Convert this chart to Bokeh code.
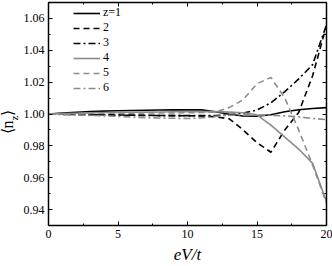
from bokeh.plotting import figure
from bokeh.layouts import row
from bokeh.models import (LinearAxis, SingleIntervalTicker, Legend, LegendItem, Div,
                          Range1d, PrintfTickFormatter, CustomJSTickFormatter)
from bokeh.embed import file_html
from bokeh.resources import INLINE

# ---- data ----
ev = list(range(21))
n_z1 = [1.0000, 1.0006, 1.0011, 1.0015, 1.0018, 1.0020, 1.0022, 1.0024, 1.0025, 1.0026, 1.0027,
        1.0026, 1.0014, 0.9998, 0.9987, 0.9986, 0.9995, 1.0014, 1.0027, 1.0035, 1.0040]
n_z2 = [1.0000, 0.9998, 0.9997, 0.9996, 0.9995, 0.9994, 0.9993, 0.9992, 0.9991, 0.9990, 0.9989,
        0.9988, 0.9982, 0.9970, 0.9900, 0.9820, 0.9760, 0.9900, 1.0010, 1.0240, 1.0555]
n_z3 = [1.0000, 0.9998, 0.9996, 0.9995, 0.9994, 0.9993, 0.9992, 0.9991, 0.9990, 0.9990, 0.9990,
        0.9990, 0.9990, 0.9995, 1.0005, 1.0025, 1.0070, 1.0140, 1.0220, 1.0310, 1.0560]
n_z4 = [1.0000, 1.0003, 1.0005, 1.0007, 1.0009, 1.0010, 1.0011, 1.0012, 1.0013, 1.0014, 1.0015,
        1.0015, 1.0015, 1.0012, 1.0008, 0.9995, 0.9930, 0.9855, 0.9780, 0.9690, 0.9450]
n_z5 = [1.0000, 1.0001, 1.0002, 1.0003, 1.0004, 1.0005, 1.0005, 1.0006, 1.0006, 1.0007, 1.0008,
        1.0009, 1.0012, 1.0040, 1.0090, 1.0190, 1.0230, 1.0100, 0.9900, 0.9680, 0.9440]
n_z6 = [1.0000, 0.9997, 0.9994, 0.9991, 0.9988, 0.9985, 0.9981, 0.9977, 0.9975, 0.9973, 0.9972,
        0.9975, 0.9985, 0.9992, 0.9995, 0.9995, 0.9992, 0.9988, 0.9982, 0.9972, 0.9965]
labels = ["z=1", "2", "3", "4", "5", "6"]
series = [n_z1, n_z2, n_z3, n_z4, n_z5, n_z6]

FONT = "Liberation Serif"
BLACK = "#000000"
GRAY = "#8c8c8c"
colors = [BLACK, BLACK, BLACK, GRAY, GRAY, GRAY]
dashes = ["solid", "6 4", "7 3 2 3", "solid", "6 4", "7 3 2 3"]

p = figure(width=312, height=266, x_range=Range1d(0, 20), y_range=Range1d(0.93, 1.07),
           output_backend="svg", toolbar_location=None,
           min_border_left=28, min_border_right=6, min_border_top=2, min_border_bottom=40)
p.grid.visible = False
p.outline_line_color = None
p.background_fill_color = "white"
p.border_fill_color = "white"

renderers = []
for ys, c, d in zip(series, colors, dashes):
    r = p.line(ev, ys, line_color=c, line_width=1.6, line_dash=d)
    renderers.append(r)

def style_axis(ax, show_labels=True):
    ax.axis_line_width = 1.5
    ax.axis_line_color = "black"
    ax.major_tick_in = 4
    ax.major_tick_out = 0
    ax.minor_tick_in = 2
    ax.minor_tick_out = 0
    ax.major_tick_line_color = "black"
    ax.minor_tick_line_color = "black"
    ax.major_label_text_font = FONT
    ax.major_label_text_color = "black"
    ax.axis_label_text_font = FONT
    ax.axis_label_text_color = "black"
    ax.major_label_text_font_size = "12px"
    if not show_labels:
        ax.formatter = CustomJSTickFormatter(code="return ''")
        ax.major_label_standoff = 0

xa = p.xaxis[0]
xa.ticker = SingleIntervalTicker(interval=5, num_minor_ticks=2)
style_axis(xa)
xa.major_label_standoff = 4
xa.axis_label = "eV/t"
xa.axis_label_text_font_style = "italic"
xa.axis_label_text_font_size = "17px"
xa.axis_label_standoff = 4

ya = p.yaxis[0]
ya.ticker = SingleIntervalTicker(interval=0.02, num_minor_ticks=2)
style_axis(ya)
ya.major_label_standoff = 4
ya.formatter = PrintfTickFormatter(format="%.2f")

top = LinearAxis(ticker=SingleIntervalTicker(interval=5, num_minor_ticks=2))
style_axis(top, False)
p.add_layout(top, "above")
right = LinearAxis(ticker=SingleIntervalTicker(interval=0.02, num_minor_ticks=2))
style_axis(right, False)
p.add_layout(right, "right")

legend = Legend(items=[LegendItem(label=l, renderers=[r]) for l, r in zip(labels, renderers)],
                location=(25, 130))
legend.label_text_font = FONT
legend.label_text_font_size = "12px"
legend.label_text_color = "black"
legend.glyph_width = 27
legend.glyph_height = 12
legend.label_height = 12
legend.spacing = 0
legend.padding = 0
legend.margin = 0
legend.label_standoff = 3
legend.border_line_alpha = 0
legend.background_fill_alpha = 0
p.add_layout(legend)

# y-axis label <n_z> as rotated HTML text (real text, with a true subscript)
ylabel_html = (
    '<div style="position:relative;width:20px;height:266px;">'
    '<div style="position:absolute;left:10px;top:122px;'
    'transform:translate(-50%,-50%) rotate(-90deg);white-space:nowrap;'
    "font-family:'Liberation Serif',serif;font-size:16px;line-height:1;color:black;\">"
    '⟨n<sub style="font-size:11px;">z</sub>⟩</div></div>'
)
ydiv = Div(text=ylabel_html, width=20, height=266, margin=0)

layout = row(ydiv, p, spacing=0, margin=0)
open("out.html", "w").write(file_html(layout, INLINE))
